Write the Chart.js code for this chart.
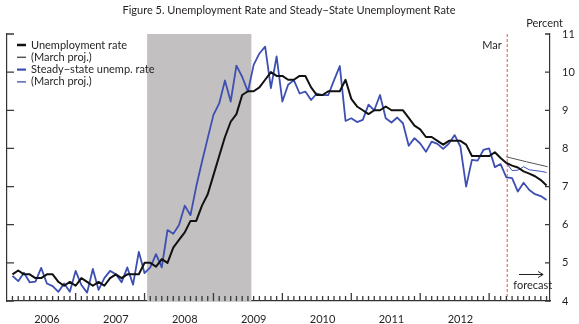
<!DOCTYPE html>
<html lang="en">
<head>
<meta charset="UTF-8">
<title>Figure 5. Unemployment Rate and Steady−State Unemployment Rate</title>
<style>
  html, body { margin: 0; padding: 0; background: #fff; overflow: hidden; }
  #wrap { width: 579px; height: 324px; }
</style>
<script src="https://cdn.jsdelivr.net/npm/chart.js"></script>
</head>
<body>
<div id="wrap"><canvas id="chart" width="579" height="324"></canvas></div>
<script>
// month index: 0 = Jan 2006 ... 93 = Oct 2013 (forecast after Feb 2013)
const unempRate = [
  4.7, 4.8, 4.7, 4.7, 4.6, 4.6, 4.7, 4.7, 4.5, 4.4, 4.5, 4.4,
  4.6, 4.5, 4.4, 4.5, 4.4, 4.6, 4.7, 4.6, 4.7, 4.7, 4.7, 5.0,
  5.0, 4.9, 5.1, 5.0, 5.4, 5.6, 5.8, 6.1, 6.1, 6.5, 6.8, 7.3,
  7.8, 8.3, 8.7, 8.9, 9.4, 9.5, 9.5, 9.6, 9.8, 10.0, 9.9, 9.9,
  9.8, 9.8, 9.9, 9.9, 9.6, 9.4, 9.4, 9.5, 9.5, 9.5, 9.8, 9.3,
  9.1, 9.0, 8.9, 9.0, 9.0, 9.1, 9.0, 9.0, 9.0, 8.8, 8.6, 8.5,
  8.3, 8.3, 8.2, 8.1, 8.2, 8.2, 8.2, 8.1, 7.8, 7.8, 7.8, 7.8,
  7.9, 7.75, 7.62, 7.55, 7.50, 7.40, 7.34, 7.27, 7.17, 7.03
];
const steadyState = [
  4.66, 4.52, 4.74, 4.49, 4.51, 4.87, 4.46, 4.39, 4.24, 4.46, 4.24, 4.79,
  4.42, 4.22, 4.84, 4.29, 4.60, 4.79, 4.70, 4.49, 4.88, 4.43, 5.29, 4.73,
  4.88, 5.23, 4.88, 5.86, 5.76, 5.99, 6.50, 6.25, 7.00, 7.65, 8.27, 8.88,
  9.18, 9.78, 9.23, 10.17, 9.88, 9.49, 10.19, 10.49, 10.67, 9.58, 10.41, 9.23,
  9.67, 9.79, 9.44, 9.49, 9.27, 9.44, 9.40, 9.40, 9.79, 10.16, 8.72, 8.79,
  8.69, 8.75, 9.15, 9.00, 9.40, 8.79, 8.68, 8.81, 8.66, 8.07, 8.27, 8.13,
  7.91, 8.18, 8.12, 7.99, 8.13, 8.35, 8.05, 7.00, 7.70, 7.68, 7.96, 8.00,
  7.51, 7.59, 7.24, 7.22, 6.87, 7.10, 6.91, 6.80, 6.75, 6.65
];
const unempProjMonths = [86, 89.5, 93.2];
const unempMarchProj = [7.78, 7.65, 7.52];
const steadyProjMonths = [86, 87, 88, 89, 90, 91, 92, 93];
const steadyMarchProj = [7.62, 7.42, 7.43, 7.52, 7.44, 7.42, 7.40, 7.37];

const yearLabels = ['2006', '2007', '2008', '2009', '2010', '2011', '2012'];
const yTickValues = [4, 5, 6, 7, 8, 9, 10, 11];
const recession = [23.45, 41.6];   // Dec 2007 - Jun 2009
const marchLine = 86.15;

const FONT = 'Lato, "Open Sans", "Liberation Sans", sans-serif';
const TEXT = '#231f20';
const BLUE = '#3d4fb2';

const toPoints = (xs, ys) => ys.map((v, i) => ({ x: xs ? xs[i] : i, y: v }));

const decor = {
  id: 'decor',
  beforeDatasetsDraw(chart) {
    const { ctx, chartArea: a, scales: { x } } = chart;
    ctx.save();
    // recession shading
    ctx.fillStyle = '#c2c0c0';
    const x0 = x.getPixelForValue(recession[0]);
    const x1 = x.getPixelForValue(recession[1]);
    ctx.fillRect(x0, a.top, x1 - x0, a.bottom - a.top);
    // March forecast line
    const xm = x.getPixelForValue(marchLine);
    ctx.strokeStyle = '#e2533c';
    ctx.lineWidth = 1;
    ctx.setLineDash([3, 2]);
    ctx.beginPath();
    ctx.moveTo(xm, a.top);
    ctx.lineTo(xm, a.bottom);
    ctx.stroke();
    ctx.restore();
  },
  afterDraw(chart) {
    const { ctx, chartArea: a, scales: { x, y } } = chart;
    ctx.save();
    ctx.setLineDash([]);
    ctx.strokeStyle = '#3a3a3a';
    ctx.lineWidth = 1.3;
    // month ticks, pointing into the plot
    ctx.beginPath();
    for (let m = 0; m <= 93; m++) {
      const px = x.getPixelForValue(m);
      const len = (m % 12 === 11) ? 8 : 5;
      ctx.moveTo(px, a.bottom);
      ctx.lineTo(px, a.bottom - len);
    }
    // left and right value ticks
    yTickValues.forEach(v => {
      const py = y.getPixelForValue(v);
      ctx.moveTo(a.left, py);
      ctx.lineTo(a.left + 7, py);
      ctx.moveTo(a.right, py);
      ctx.lineTo(a.right - 5, py);
    });
    ctx.stroke();

    // title and unit
    ctx.fillStyle = TEXT;
    ctx.textBaseline = 'middle';
    ctx.font = '11px ' + FONT;
    ctx.textAlign = 'center';
    ctx.fillText('Figure 5. Unemployment Rate and Steady\u2212State Unemployment Rate', 289, 10);
    ctx.textAlign = 'right';
    ctx.fillText('Percent', a.right + 13, a.top - 11);

    // forecast notes
    ctx.textAlign = 'center';
    ctx.fillText('Mar', x.getPixelForValue(83.5), y.getPixelForValue(10.71));
    ctx.fillText('forecast', x.getPixelForValue(90.6), y.getPixelForValue(4.42));
    const ax0 = x.getPixelForValue(88.2), ax1 = x.getPixelForValue(92.4);
    const ay = Math.round(y.getPixelForValue(4.71)) + 0.5;
    ctx.strokeStyle = TEXT;
    ctx.lineWidth = 1;
    ctx.beginPath();
    ctx.moveTo(ax0, ay);
    ctx.lineTo(ax1, ay);
    ctx.moveTo(ax1 - 5, ay - 3);
    ctx.lineTo(ax1, ay);
    ctx.lineTo(ax1 - 5, ay + 3);
    ctx.stroke();

    // legend
    ctx.textAlign = 'left';
    chart.data.datasets.forEach((ds, i) => {
      const ly = 45 + i * 12.3;
      ctx.strokeStyle = ds.borderColor;
      ctx.lineWidth = ds.legendWidth;
      ctx.beginPath();
      ctx.moveTo(17, ly);
      ctx.lineTo(26, ly);
      ctx.stroke();
      ctx.fillText(ds.label, 31, ly);
    });
    ctx.restore();
  }
};

new Chart(document.getElementById('chart'), {
  type: 'line',
  data: {
    datasets: [
      { label: 'Unemployment rate', data: toPoints(null, unempRate),
        borderColor: '#111', borderWidth: 2, legendWidth: 2.5 },
      { label: '(March proj.)', data: toPoints(unempProjMonths, unempMarchProj),
        borderColor: '#555', borderWidth: 1, legendWidth: 1.5 },
      { label: 'Steady\u2212state unemp. rate', data: toPoints(null, steadyState),
        borderColor: BLUE, borderWidth: 1.8, legendWidth: 2.2 },
      { label: '(March proj.)', data: toPoints(steadyProjMonths, steadyMarchProj),
        borderColor: BLUE, borderWidth: 1, legendWidth: 1.3 }
    ]
  },
  options: {
    responsive: false,
    animation: false,
    devicePixelRatio: 1,
    events: [],
    layout: { padding: { top: 34, left: 7, right: 0, bottom: 0 } },
    elements: { point: { radius: 0 }, line: { tension: 0, borderJoinStyle: 'round' } },
    plugins: { legend: { display: false }, tooltip: { enabled: false } },
    scales: {
      x: {
        type: 'linear',
        min: -0.95,
        max: 93.6,
        afterBuildTicks: s => { s.ticks = yearLabels.map((_, i) => ({ value: 6 + 12 * i })); },
        afterFit: s => { s.height = 23; },
        grid: { display: false },
        border: { display: true, color: '#333', width: 1.2 },
        ticks: {
          autoSkip: false, maxRotation: 0, padding: 4, color: TEXT,
          font: { family: FONT, size: 11 },
          callback: v => yearLabels[Math.round((v - 6) / 12)]
        }
      },
      y: {
        type: 'linear',
        position: 'right',
        min: 4,
        max: 11,
        afterBuildTicks: s => { s.ticks = yTickValues.map(v => ({ value: v })); },
        afterFit: s => { s.width = 29; },
        grid: { display: false },
        border: { display: true, color: '#333', width: 1.2 },
        ticks: { padding: 4, color: TEXT, font: { family: FONT, size: 11 } }
      },
      yLeft: {
        type: 'linear',
        position: 'left',
        min: 4,
        max: 11,
        afterFit: s => { s.width = 0; },
        grid: { display: false },
        border: { display: true, color: '#333', width: 1.2 },
        ticks: { display: false }
      }
    }
  },
  plugins: [decor]
});
</script>
</body>
</html>
